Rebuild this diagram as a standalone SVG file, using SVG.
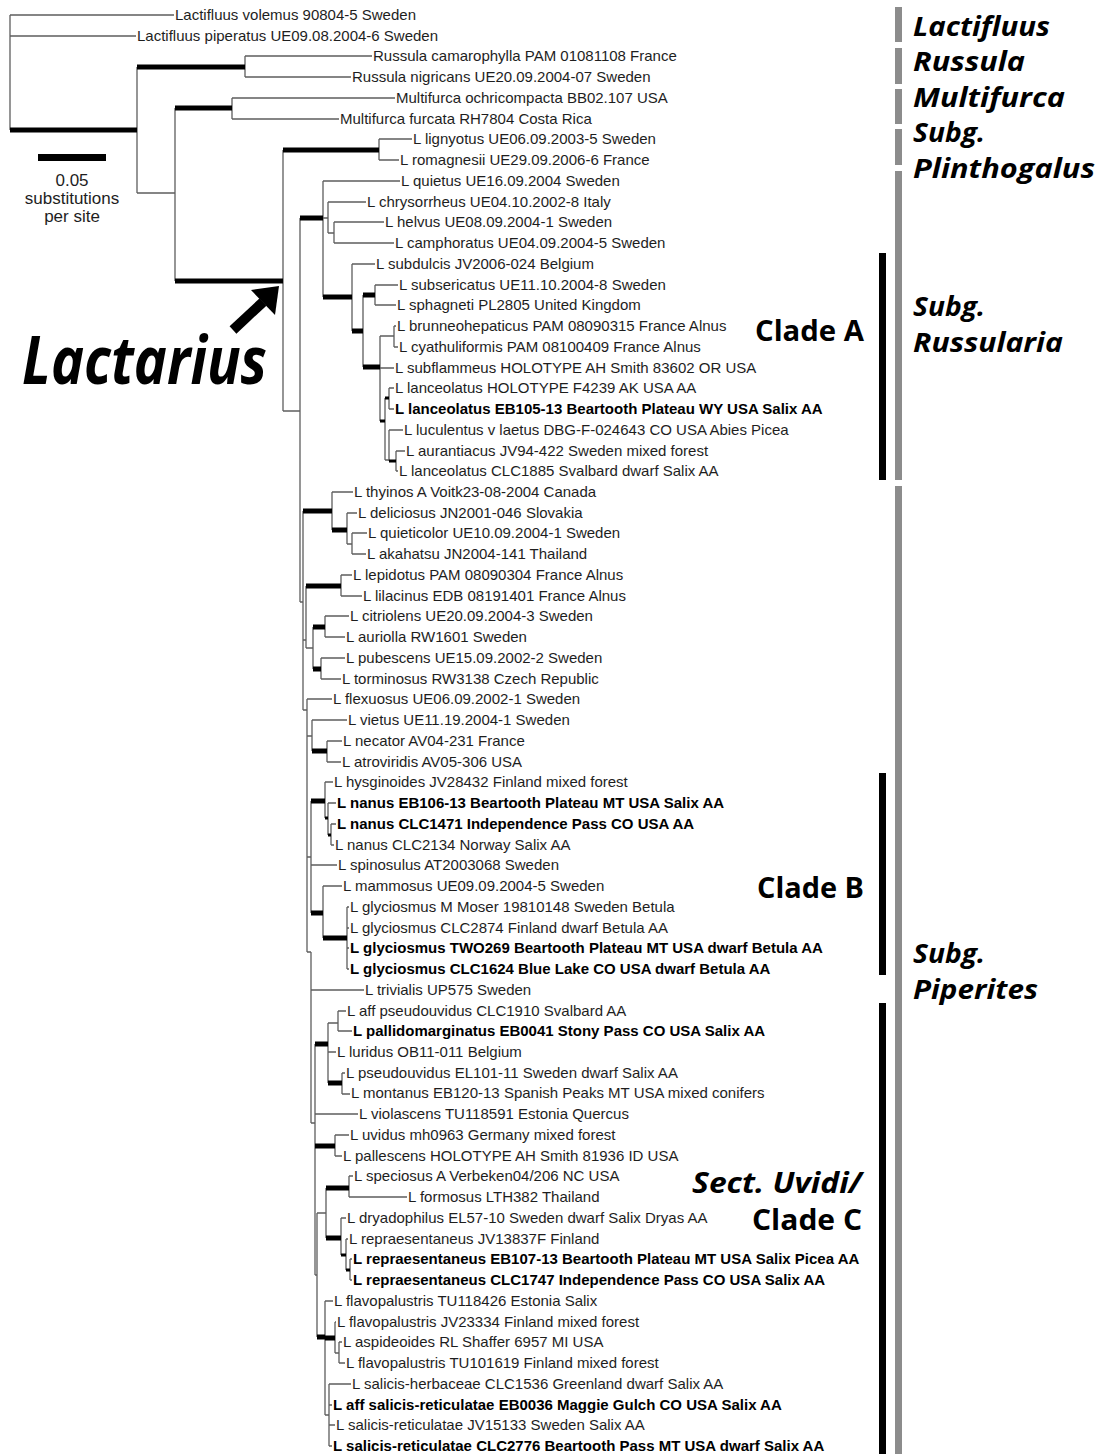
<svg xmlns="http://www.w3.org/2000/svg" width="1101" height="1454" viewBox="0 0 1101 1454">
<style>
.b{stroke:#5e5e5e;stroke-width:1.3;fill:none}
.t{stroke:#000;stroke-width:5;fill:none}
.lf{font-family:"Liberation Sans",Arial,sans-serif;font-size:15px;fill:#1e1e1e}
.bd{font-weight:bold;fill:#000}
.grp{font-family:"Open Sans",sans-serif;font-weight:bold;font-style:italic;font-size:26px;fill:#000}
.cl{font-family:"Open Sans",sans-serif;font-weight:bold;font-size:28px;fill:#000}
.gbar{fill:#8c8c8c}
.kbar{fill:#000}
</style>
<rect width="1101" height="1454" fill="#fff"/>
<g id="connectors">
<path class="b" d="M10 15V130 M10 15H174 M10 36H136
M137 67V193 M137 193H175
M245 56V77 M245 56H372 M245 77H351
M175 108V281
M232 98V119 M232 98H395 M232 119H339
M283 150V411 M283 411H300
M379 139V160 M379 139H412 M379 160H399
M300 218V602 M300 602H303
M323 181V297 M323 181H400 M323 218H328
M328 202V233 M328 202H366 M328 233H334
M334 222V243 M334 222H384 M334 243H394
M352 264V331 M352 264H375
M363 295V367
M375 285V305 M375 285H398 M375 305H396
M380 336V421 M380 336H394 M380 368H394
M394 326V347 M394 326H396 M394 347H398
M385 398V460 M385 460H389
M389 388V409 M389 388H394 M389 409H394
M389 430V461 M389 430H403
M396 451V471 M396 451H405 M396 471H398
M303 511V710 M303 640H306 M303 710H307
M332 492V530 M332 492H353
M347 513V544 M347 513H357 M347 544H352
M352 533V554 M352 533H367 M352 554H366
M306 586V648 M306 648H313
M341 575V596 M341 575H352 M341 596H362
M313 627V669
M325 616V637 M325 616H349 M325 637H345
M321 658V679 M321 658H345 M321 679H341
M307 699V952 M307 699H332 M307 736H312 M307 857H311 M307 952H311
M312 720V751 M312 720H347
M327 741V762 M327 741H342 M327 762H341
M311 801V913 M311 865H337
M325 782V818 M325 782H333
M328 803V835 M328 803H336 M328 835H331
M331 824V845 M331 824H336 M331 845H334
M323 886V938 M323 886H342
M347 907V969 M347 907H349 M347 928H349 M347 948H349 M347 969H349
M311 952V1123 M311 990H364 M311 1123H315
M315 1044V1275 M315 1114H358 M315 1275H317
M328 1023V1083 M328 1023H338 M328 1052H336
M338 1011V1031 M338 1011H346 M338 1031H352
M342 1073V1094 M342 1073H345 M342 1094H350
M335 1135V1156 M335 1135H349 M335 1156H342
M317 1213V1337 M317 1213H326
M326 1188V1238
M349 1176V1197 M349 1176H353 M349 1197H407
M341 1218V1255 M341 1218H346
M346 1239V1270 M346 1239H348
M350 1259V1280 M350 1259H352 M350 1280H352
M325 1301V1415 M325 1301H333 M325 1415H329
M335 1322V1353 M335 1322H336 M335 1353H339
M339 1342V1363 M339 1342H342 M339 1363H345
M329 1384V1446 M329 1384H351 M329 1405H332 M329 1425H335 M329 1446H332"/>
<path class="t" d="M10 130H137 M137 67H245 M175 108H232 M175 281H283 M283 150H379
M300 218H323 M323 297H352 M352 331H363 M363 295H375 M363 367H380
M303 511H332 M332 530H347 M306 586H341 M313 627H325 M313 669H321 M312 751H327
M311 801H325 M311 913H323 M323 938H347
M315 1044H328 M328 1083H342 M315 1146H335 M326 1188H349 M326 1238H341 M317 1337H325 M325 1338H335"/>
<path d="M380 421H385 M385 398H389 M325 818H328 M328 835H331 M389 461H396 M341 1255H346 M346 1270H350" stroke="#000" stroke-width="3" fill="none"/>
</g>
<g id="scale-bar">
<rect x="38" y="154" width="68" height="7" fill="#000"/>
<text x="72" y="186" text-anchor="middle" class="lf" style="font-size:17px">0.05</text>
<text x="72" y="204" text-anchor="middle" class="lf" style="font-size:17px">substitutions</text>
<text x="72" y="222" text-anchor="middle" class="lf" style="font-size:17px">per site</text>
</g>
<g id="lactarius-label">
<line x1="233" y1="330" x2="263" y2="302" stroke="#000" stroke-width="10"/>
<polygon points="279,286 251,290 275,315" fill="#000"/>
<text x="22" y="384" class="grp" style="font-size:66px" textLength="245" lengthAdjust="spacingAndGlyphs">Lactarius</text>
</g>
<g id="leaves" class="lf">
<g id="leaf1"><text x="175" y="20">Lactifluus volemus 90804-5 Sweden</text></g>
<g id="leaf2"><text x="137" y="41">Lactifluus piperatus UE09.08.2004-6 Sweden</text></g>
<g id="leaf3"><text x="373" y="61">Russula camarophylla PAM 01081108 France</text></g>
<g id="leaf4"><text x="352" y="82">Russula nigricans UE20.09.2004-07 Sweden</text></g>
<g id="leaf5"><text x="396" y="103">Multifurca ochricompacta BB02.107 USA</text></g>
<g id="leaf6"><text x="340" y="124">Multifurca furcata RH7804 Costa Rica</text></g>
<g id="leaf7"><text x="413" y="144">L lignyotus UE06.09.2003-5 Sweden</text></g>
<g id="leaf8"><text x="400" y="165">L romagnesii UE29.09.2006-6 France</text></g>
<g id="leaf9"><text x="401" y="186">L quietus UE16.09.2004 Sweden</text></g>
<g id="leaf10"><text x="367" y="207">L chrysorrheus UE04.10.2002-8 Italy</text></g>
<g id="leaf11"><text x="385" y="227">L helvus UE08.09.2004-1 Sweden</text></g>
<g id="leaf12"><text x="395" y="248">L camphoratus UE04.09.2004-5 Sweden</text></g>
<g id="leaf13"><text x="376" y="269">L subdulcis JV2006-024 Belgium</text></g>
<g id="leaf14"><text x="399" y="290">L subsericatus UE11.10.2004-8 Sweden</text></g>
<g id="leaf15"><text x="397" y="310">L sphagneti PL2805 United Kingdom</text></g>
<g id="leaf16"><text x="397" y="331">L brunneohepaticus PAM 08090315 France Alnus</text></g>
<g id="leaf17"><text x="399" y="352">L cyathuliformis PAM 08100409 France Alnus</text></g>
<g id="leaf18"><text x="395" y="373">L subflammeus HOLOTYPE AH Smith 83602 OR USA</text></g>
<g id="leaf19"><text x="395" y="393">L lanceolatus HOLOTYPE F4239 AK USA AA</text></g>
<g id="leaf20"><text x="395" y="414" class="bd">L lanceolatus EB105-13 Beartooth Plateau WY USA Salix AA</text></g>
<g id="leaf21"><text x="404" y="435">L luculentus v laetus DBG-F-024643 CO USA Abies Picea</text></g>
<g id="leaf22"><text x="406" y="456">L aurantiacus JV94-422 Sweden mixed forest</text></g>
<g id="leaf23"><text x="399" y="476">L lanceolatus CLC1885 Svalbard dwarf Salix AA</text></g>
<g id="leaf24"><text x="354" y="497">L thyinos A Voitk23-08-2004 Canada</text></g>
<g id="leaf25"><text x="358" y="518">L deliciosus JN2001-046 Slovakia</text></g>
<g id="leaf26"><text x="368" y="538">L quieticolor UE10.09.2004-1 Sweden</text></g>
<g id="leaf27"><text x="367" y="559">L akahatsu JN2004-141 Thailand</text></g>
<g id="leaf28"><text x="353" y="580">L lepidotus PAM 08090304 France Alnus</text></g>
<g id="leaf29"><text x="363" y="601">L lilacinus EDB 08191401 France Alnus</text></g>
<g id="leaf30"><text x="350" y="621">L citriolens UE20.09.2004-3 Sweden</text></g>
<g id="leaf31"><text x="346" y="642">L auriolla RW1601 Sweden</text></g>
<g id="leaf32"><text x="346" y="663">L pubescens UE15.09.2002-2 Sweden</text></g>
<g id="leaf33"><text x="342" y="684">L torminosus RW3138 Czech Republic</text></g>
<g id="leaf34"><text x="333" y="704">L flexuosus UE06.09.2002-1 Sweden</text></g>
<g id="leaf35"><text x="348" y="725">L vietus UE11.19.2004-1 Sweden</text></g>
<g id="leaf36"><text x="343" y="746">L necator AV04-231 France</text></g>
<g id="leaf37"><text x="342" y="767">L atroviridis AV05-306 USA</text></g>
<g id="leaf38"><text x="334" y="787">L hysginoides JV28432 Finland mixed forest</text></g>
<g id="leaf39"><text x="337" y="808" class="bd">L nanus EB106-13 Beartooth Plateau MT USA Salix AA</text></g>
<g id="leaf40"><text x="337" y="829" class="bd">L nanus CLC1471 Independence Pass CO USA AA</text></g>
<g id="leaf41"><text x="335" y="850">L nanus CLC2134 Norway Salix AA</text></g>
<g id="leaf42"><text x="338" y="870">L spinosulus AT2003068 Sweden</text></g>
<g id="leaf43"><text x="343" y="891">L mammosus UE09.09.2004-5 Sweden</text></g>
<g id="leaf44"><text x="350" y="912">L glyciosmus M Moser 19810148 Sweden Betula</text></g>
<g id="leaf45"><text x="350" y="933">L glyciosmus CLC2874 Finland dwarf Betula AA</text></g>
<g id="leaf46"><text x="350" y="953" class="bd">L glyciosmus TWO269 Beartooth Plateau MT USA dwarf Betula AA</text></g>
<g id="leaf47"><text x="350" y="974" class="bd">L glyciosmus CLC1624 Blue Lake CO USA dwarf Betula AA</text></g>
<g id="leaf48"><text x="365" y="995">L trivialis UP575 Sweden</text></g>
<g id="leaf49"><text x="347" y="1016">L aff pseudouvidus CLC1910 Svalbard AA</text></g>
<g id="leaf50"><text x="353" y="1036" class="bd">L pallidomarginatus EB0041 Stony Pass CO USA Salix AA</text></g>
<g id="leaf51"><text x="337" y="1057">L luridus OB11-011 Belgium</text></g>
<g id="leaf52"><text x="346" y="1078">L pseudouvidus EL101-11 Sweden dwarf Salix AA</text></g>
<g id="leaf53"><text x="351" y="1098">L montanus EB120-13 Spanish Peaks MT USA mixed conifers</text></g>
<g id="leaf54"><text x="359" y="1119">L violascens TU118591 Estonia Quercus</text></g>
<g id="leaf55"><text x="350" y="1140">L uvidus mh0963 Germany mixed forest</text></g>
<g id="leaf56"><text x="343" y="1161">L pallescens HOLOTYPE AH Smith 81936 ID USA</text></g>
<g id="leaf57"><text x="354" y="1181">L speciosus A Verbeken04/206 NC USA</text></g>
<g id="leaf58"><text x="408" y="1202">L formosus LTH382 Thailand</text></g>
<g id="leaf59"><text x="347" y="1223">L dryadophilus EL57-10 Sweden dwarf Salix Dryas AA</text></g>
<g id="leaf60"><text x="349" y="1244">L repraesentaneus JV13837F Finland</text></g>
<g id="leaf61"><text x="353" y="1264" class="bd">L repraesentaneus EB107-13 Beartooth Plateau MT USA Salix Picea AA</text></g>
<g id="leaf62"><text x="353" y="1285" class="bd">L repraesentaneus CLC1747 Independence Pass CO USA Salix AA</text></g>
<g id="leaf63"><text x="334" y="1306">L flavopalustris TU118426 Estonia Salix</text></g>
<g id="leaf64"><text x="337" y="1327">L flavopalustris JV23334 Finland mixed forest</text></g>
<g id="leaf65"><text x="343" y="1347">L aspideoides RL Shaffer 6957 MI USA</text></g>
<g id="leaf66"><text x="346" y="1368">L flavopalustris TU101619 Finland mixed forest</text></g>
<g id="leaf67"><text x="352" y="1389">L salicis-herbaceae CLC1536 Greenland dwarf Salix AA</text></g>
<g id="leaf68"><text x="333" y="1410" class="bd">L aff salicis-reticulatae EB0036 Maggie Gulch CO USA Salix AA</text></g>
<g id="leaf69"><text x="336" y="1430">L salicis-reticulatae JV15133 Sweden Salix AA</text></g>
<g id="leaf70"><text x="333" y="1451" class="bd">L salicis-reticulatae CLC2776 Beartooth Pass MT USA dwarf Salix AA</text></g>
</g>
<g id="clade-bars">
<rect class="kbar" x="879" y="253" width="7" height="227"/>
<rect class="kbar" x="879" y="773" width="7" height="202"/>
<rect class="kbar" x="879" y="1003" width="7" height="451"/>
<rect class="gbar" x="895" y="7" width="7" height="35"/>
<rect class="gbar" x="895" y="48" width="7" height="36"/>
<rect class="gbar" x="895" y="89" width="7" height="35"/>
<rect class="gbar" x="895" y="129" width="7" height="36"/>
<rect class="gbar" x="895" y="171" width="7" height="309"/>
<rect class="gbar" x="895" y="486" width="7" height="968"/>
</g>
<g id="clade-labels">
<text class="cl" x="755" y="341" textLength="109" lengthAdjust="spacingAndGlyphs">Clade A</text>
<text class="cl" x="757" y="898" textLength="107" lengthAdjust="spacingAndGlyphs">Clade B</text>
<text class="grp" style="font-size:28px" x="692" y="1193" textLength="170" lengthAdjust="spacingAndGlyphs">Sect. Uvidi/</text>
<text class="cl" x="752" y="1230" textLength="110" lengthAdjust="spacingAndGlyphs">Clade C</text>
</g>
<g id="group-labels" class="grp">
<text x="913" y="36" textLength="137" lengthAdjust="spacingAndGlyphs">Lactifluus</text>
<text x="913" y="71" textLength="112" lengthAdjust="spacingAndGlyphs">Russula</text>
<text x="913" y="107" textLength="152" lengthAdjust="spacingAndGlyphs">Multifurca</text>
<text x="913" y="142" textLength="72" lengthAdjust="spacingAndGlyphs">Subg.</text>
<text x="913" y="178" textLength="182" lengthAdjust="spacingAndGlyphs">Plinthogalus</text>
<text x="913" y="316" textLength="72" lengthAdjust="spacingAndGlyphs">Subg.</text>
<text x="913" y="352" textLength="150" lengthAdjust="spacingAndGlyphs">Russularia</text>
<text x="913" y="963" textLength="72" lengthAdjust="spacingAndGlyphs">Subg.</text>
<text x="913" y="999" textLength="125" lengthAdjust="spacingAndGlyphs">Piperites</text>
</g>
</svg>
